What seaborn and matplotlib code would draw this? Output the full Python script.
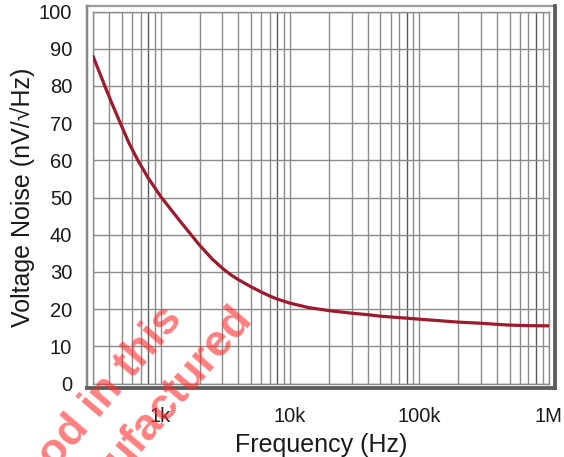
import matplotlib
matplotlib.use("Agg")
import matplotlib.pyplot as plt
import seaborn as sns
from matplotlib.lines import Line2D
from matplotlib.ticker import FixedLocator, NullFormatter

# ── data ─────────────────────────────────────────────────────────────────────
freq_hz = [300, 335, 370, 420, 488, 570, 667, 800, 1000, 1410, 2000, 2500,
           3000, 3500, 4000, 5000, 6000, 7000, 8000, 10000, 14000, 20000,
           30000, 40000, 50000, 100000, 200000, 300000, 400000, 500000,
           700000, 1000000]
noise_nv = [88.0, 83.8, 80.0, 75.3, 70.0, 64.6, 60.0, 55.3, 50.3, 43.7, 37.2, 33.5,
            31.0, 29.2, 27.9, 26.0, 24.6, 23.5, 22.7, 21.6, 20.4, 19.6,
            18.9, 18.5, 18.1, 17.3, 16.5, 16.2, 15.9, 15.7,
            15.55, 15.5]

x_major = [1e3, 1e4, 1e5, 1e6]
x_major_labels = ["1k", "10k", "100k", "1M"]
y_ticks = list(range(0, 101, 10))

W, H = 564, 457
GRID = "#8c8c8c"
CURVE = "#9e1b2d"
TEXT = "#1a1a1a"

sns.set_theme(style="white")
plt.rcParams["font.family"] = ["Liberation Sans", "DejaVu Sans"]


def px(x, y):
    """pixel (from top-left) -> figure fraction"""
    return x / W, 1 - y / H


fig = plt.figure(figsize=(W / 100, H / 100), dpi=100)
fig.patch.set_facecolor("white")
left, top = px(93, 11.5)
right, bottom = px(548.5, 383.5)
ax = fig.add_axes([left, bottom, right - left, top - bottom])

sns.lineplot(x=freq_hz, y=noise_nv, color=CURVE, linewidth=2.3, ax=ax, zorder=5)

ax.set_xscale("log")
ax.set_xlim(300, 1e6)
ax.set_ylim(0, 100)

# grid: every minor decade line plus 10 nV steps
minor = [m * 10 ** e for e in range(2, 6) for m in range(2, 10) if 300 <= m * 10 ** e <= 1e6]
ax.xaxis.set_major_locator(FixedLocator(x_major))
ax.set_xticklabels(x_major_labels)
ax.xaxis.set_minor_locator(FixedLocator(minor))
ax.xaxis.set_minor_formatter(NullFormatter())
ax.set_yticks(y_ticks)
ax.grid(True, which="both", axis="x", color=GRID, linewidth=1.0)
ax.grid(True, which="major", axis="y", color=GRID, linewidth=1.0)

# the 8x lines print a shade darker in the original
minor_locs = ax.xaxis.get_minorticklocs()
for loc, t in zip(minor_locs, ax.xaxis.get_minor_ticks(len(minor_locs))):
    if round(loc / 10 ** (len(str(int(loc))) - 1)) == 8:
        t.gridline.set_color("#5a5a5a")

ax.tick_params(axis="both", which="both", length=0, labelsize=14.5, colors=TEXT)
ax.tick_params(axis="x", pad=17)
ax.tick_params(axis="y", pad=15)
for s in ax.spines.values():
    s.set_color(GRID)
    s.set_linewidth(1.0)

ax.set_xlabel("Frequency (Hz)", fontsize=18, color=TEXT, labelpad=5)
ax.set_ylabel("Voltage Noise (nV/\u221aHz)", fontsize=18, color=TEXT, labelpad=3)


# outer embossed frame
def frame_line(p0, p1, color, lw):
    (x0, y0), (x1, y1) = px(*p0), px(*p1)
    fig.add_artist(Line2D([x0, x1], [y0, y1], transform=fig.transFigure,
                          color=color, linewidth=lw * 0.72, solid_capstyle="projecting"))


frame_line((86.5, 5.5), (554, 5.5), "#9a9a9a", 2.2)
frame_line((86.5, 5.5), (86.5, 387.5), "#8a8a8a", 2.5)
frame_line((554.5, 5.5), (554.5, 388), "#5c5c5c", 3.8)
frame_line((86.5, 387.5), (554.5, 387.5), "#5c5c5c", 3.8)

# watermark (runs off the bottom edge in the original too)
wm = dict(rotation=49.5, rotation_mode="anchor", ha="right", va="baseline",
          fontsize=32, fontweight="bold", color="#ff2a2a", alpha=0.6, zorder=20)
fig.text(*px(184, 320), "od in this", **wm)
fig.text(*px(253, 319), "ufactured", **wm)

fig.savefig("out.png", dpi=100)
